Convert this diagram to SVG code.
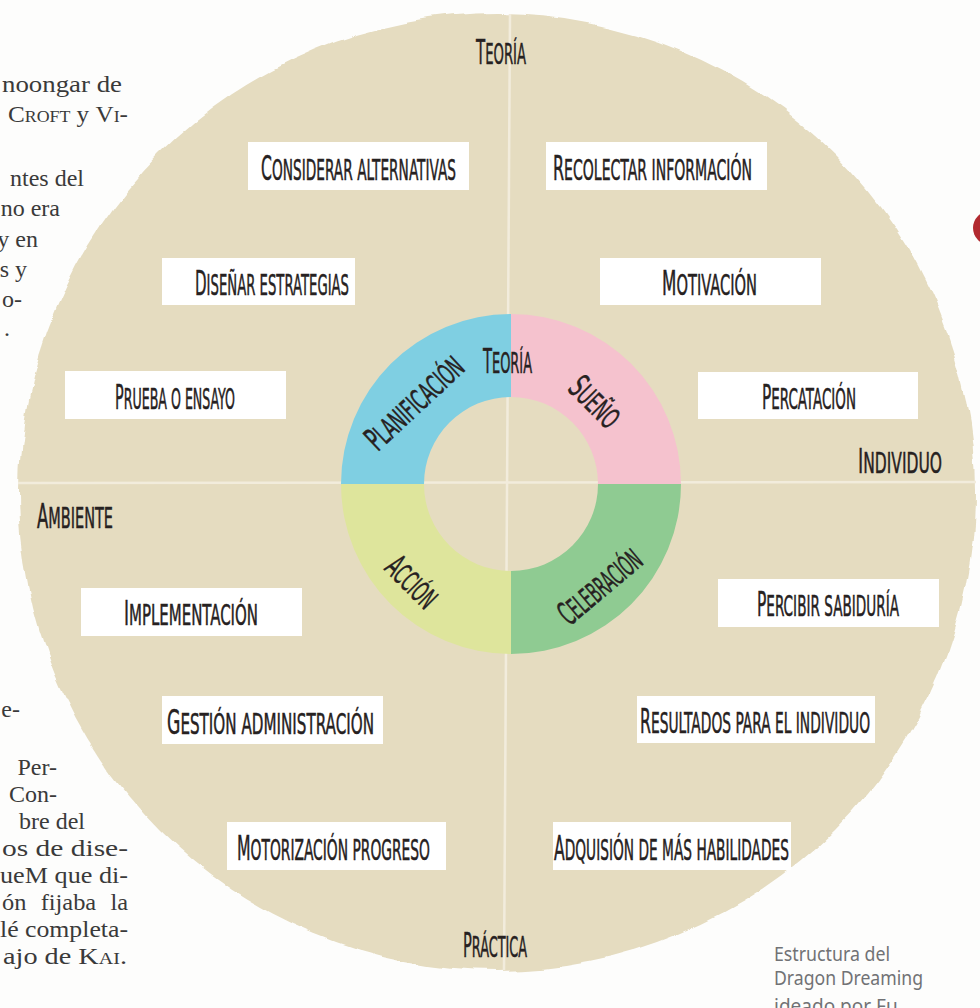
<svg xmlns="http://www.w3.org/2000/svg" width="980" height="1008" viewBox="0 0 980 1008">
<style>
.page{font-family:'Liberation Serif','DejaVu Serif',serif;font-size:24px;fill:#3a3a3a;text-anchor:end}
.pj{text-anchor:start}
.sc{font-variant:small-caps}
.lbl{font-family:'Liberation Sans Narrow','DejaVu Sans Condensed','DejaVu Sans',sans-serif;font-size:29px;text-transform:uppercase;fill:#262121;stroke:#262121;stroke-width:0.5;text-anchor:middle}
.ini{font-size:33px}
.box{fill:#ffffff}
.axis{stroke:#f2ecdc;stroke-width:2.5;fill:none}
.cap{font-family:'Noto Sans','DejaVu Sans',sans-serif;font-size:19px;fill:#717275}
</style>
<defs>
<filter id="rough" x="-3%" y="-3%" width="106%" height="106%">
<feTurbulence type="fractalNoise" baseFrequency="0.012 0.035" numOctaves="2" seed="7" result="n"/>
<feDisplacementMap in="SourceGraphic" in2="n" scale="11" xChannelSelector="R" yChannelSelector="G"/>
</filter>
</defs>
<rect width="980" height="1008" fill="#fdfdfc"/>

<g id="page-text">
<text class="page pj" x="2" y="92" textLength="120" lengthAdjust="spacingAndGlyphs">noongar de</text>
<text class="page pj" x="8" y="122" textLength="120" lengthAdjust="spacingAndGlyphs"><tspan class="sc">Croft</tspan> y <tspan class="sc">Vi-</tspan></text>
<text class="page" x="84" y="186">ntes del</text>
<text class="page" x="60" y="216">no era</text>
<text class="page" x="38" y="247">y en</text>
<text class="page" x="27" y="277">s y</text>
<text class="page" x="22" y="307">o-</text>
<text class="page" x="10" y="336">.</text>
<text class="page" x="20" y="717">e-</text>
<text class="page" x="57" y="775">Per-</text>
<text class="page" x="57" y="802">Con-</text>
<text class="page" x="85" y="829">bre del</text>
<text class="page pj" x="2" y="856" textLength="126" lengthAdjust="spacingAndGlyphs">os de dise-</text>
<text class="page pj" x="0" y="883" textLength="128" lengthAdjust="spacingAndGlyphs">ueM que di-</text>
<text class="page pj" x="2" y="910" textLength="126" lengthAdjust="spacingAndGlyphs" word-spacing="8">ón fijaba la</text>
<text class="page pj" x="0" y="937" textLength="128" lengthAdjust="spacingAndGlyphs">lé completa-</text>
<text class="page pj" x="3" y="964" textLength="124" lengthAdjust="spacingAndGlyphs">ajo de <tspan class="sc">Kai.</tspan></text>
</g>

<g id="background-circle">
<circle cx="497" cy="492" r="478" fill="#e5dcc0" filter="url(#rough)"/>
</g>

<g id="axes">
<line class="axis" x1="510" y1="14" x2="504" y2="970"/>
<line class="axis" x1="18" y1="483" x2="976" y2="482"/>
</g>

<g id="ring">
<path d="M511,314 A170,170 0 0 1 681,484 L598,484 A87,87 0 0 0 511,397 Z" fill="#f5c2ce"/>
<path d="M681,484 A170,170 0 0 1 511,654 L511,571 A87,87 0 0 0 598,484 Z" fill="#8fcb92"/>
<path d="M511,654 A170,170 0 0 1 341,484 L424,484 A87,87 0 0 0 511,571 Z" fill="#dee59c"/>
<path d="M341,484 A170,170 0 0 1 511,314 L511,397 A87,87 0 0 0 424,484 Z" fill="#7fcfe2"/>
</g>

<g id="ring-labels">
<text id="ring-teoria" class="lbl" x="507.5" y="373" textLength="49" lengthAdjust="spacingAndGlyphs"><tspan class="ini">T</tspan>eoría</text>
<text id="ring-planificacion" class="lbl" transform="translate(422,411) rotate(-43)" x="0" y="0" textLength="121" lengthAdjust="spacingAndGlyphs"><tspan class="ini">P</tspan>lanificación</text>
<text id="ring-sueno" class="lbl" transform="translate(587,410) rotate(45)" x="0" y="0" textLength="58" lengthAdjust="spacingAndGlyphs"><tspan class="ini">S</tspan>ueño</text>
<text id="ring-celebracion" class="lbl" transform="translate(607,595) rotate(-40)" x="0" y="0" textLength="98" lengthAdjust="spacingAndGlyphs"><tspan class="ini">C</tspan>elebración</text>
<text id="ring-accion" class="lbl" transform="translate(404,590) rotate(45)" x="0" y="0" textLength="59" lengthAdjust="spacingAndGlyphs"><tspan class="ini">A</tspan>cción</text>
</g>

<g id="axis-labels">
<text id="ax-teoria" class="lbl" x="501" y="64" textLength="50" lengthAdjust="spacingAndGlyphs"><tspan class="ini">T</tspan>eoría</text>
<text id="ax-individuo" class="lbl" x="900" y="473" textLength="84" lengthAdjust="spacingAndGlyphs"><tspan class="ini">I</tspan>ndividuo</text>
<text id="ax-ambiente" class="lbl" x="75" y="528" textLength="76" lengthAdjust="spacingAndGlyphs"><tspan class="ini">A</tspan>mbiente</text>
<text id="ax-practica" class="lbl" x="495" y="957" textLength="64" lengthAdjust="spacingAndGlyphs"><tspan class="ini">P</tspan>ráctica</text>
</g>

<g id="node-considerar">
<rect class="box" x="248" y="142" width="221" height="48"/>
<text class="lbl" x="358.5" y="180" textLength="195" lengthAdjust="spacingAndGlyphs"><tspan class="ini">C</tspan>onsiderar alternativas</text>
</g>
<g id="node-recolectar">
<rect class="box" x="546" y="142" width="221" height="48"/>
<text class="lbl" x="652.5" y="180" textLength="199" lengthAdjust="spacingAndGlyphs"><tspan class="ini">R</tspan>ecolectar información</text>
</g>
<g id="node-disenar">
<rect class="box" x="162" y="258" width="193" height="47"/>
<text class="lbl" x="272" y="295" textLength="154" lengthAdjust="spacingAndGlyphs"><tspan class="ini">D</tspan>iseñar estrategias</text>
</g>
<g id="node-motivacion">
<rect class="box" x="600" y="258" width="221" height="47"/>
<text class="lbl" x="709.5" y="295" textLength="95" lengthAdjust="spacingAndGlyphs"><tspan class="ini">M</tspan>otivación</text>
</g>
<g id="node-prueba">
<rect class="box" x="65" y="371" width="221" height="48"/>
<text class="lbl" x="175" y="409" textLength="120" lengthAdjust="spacingAndGlyphs"><tspan class="ini">P</tspan>rueba o ensayo</text>
</g>
<g id="node-percatacion">
<rect class="box" x="698" y="372" width="220" height="47"/>
<text class="lbl" x="809" y="409" textLength="94" lengthAdjust="spacingAndGlyphs"><tspan class="ini">P</tspan>ercatación</text>
</g>
<g id="node-implementacion">
<rect class="box" x="81" y="588" width="221" height="48"/>
<text class="lbl" x="191" y="625" textLength="134" lengthAdjust="spacingAndGlyphs"><tspan class="ini">I</tspan>mplementación</text>
</g>
<g id="node-percibir">
<rect class="box" x="718" y="579" width="221" height="48"/>
<text class="lbl" x="828" y="616" textLength="142" lengthAdjust="spacingAndGlyphs"><tspan class="ini">P</tspan>ercibir sabiduría</text>
</g>
<g id="node-gestion">
<rect class="box" x="162" y="696" width="221" height="48"/>
<text class="lbl" x="270.5" y="734" textLength="207" lengthAdjust="spacingAndGlyphs"><tspan class="ini">G</tspan>estión administración</text>
</g>
<g id="node-resultados">
<rect class="box" x="637" y="696" width="238" height="47"/>
<text class="lbl" x="755" y="733" textLength="230" lengthAdjust="spacingAndGlyphs"><tspan class="ini">R</tspan>esultados para el individuo</text>
</g>
<g id="node-motorizacion">
<rect class="box" x="227" y="822" width="219" height="48"/>
<text class="lbl" x="333.5" y="860" textLength="193" lengthAdjust="spacingAndGlyphs"><tspan class="ini">M</tspan>otorización progreso</text>
</g>
<g id="node-adquision">
<rect class="box" x="553" y="822" width="238" height="48"/>
<text class="lbl" x="671.5" y="860" textLength="235" lengthAdjust="spacingAndGlyphs"><tspan class="ini">A</tspan>dquisión de más habilidades</text>
</g>

<g id="red-mark">
<circle cx="990" cy="228" r="17" fill="#b22a30"/>
</g>

<g id="caption">
<text class="cap" x="774" y="961" textLength="116" lengthAdjust="spacingAndGlyphs">Estructura del</text>
<text class="cap" x="774" y="985" textLength="149" lengthAdjust="spacingAndGlyphs">Dragon Dreaming</text>
<text class="cap" x="774" y="1013">ideado por Fu</text>
</g>
</svg>
